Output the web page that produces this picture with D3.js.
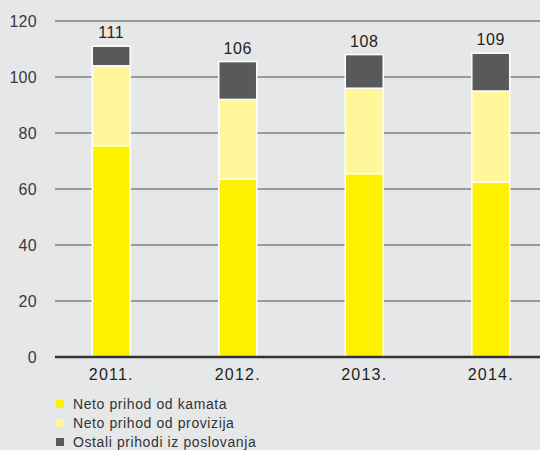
<!DOCTYPE html>
<html>
<head>
<meta charset="utf-8">
<script src="https://cdn.jsdelivr.net/npm/d3@7"></script>
<style>
  body { margin: 0; background: #e6e7e8; }
  svg { display: block; font-family: "Liberation Sans", "DejaVu Sans", sans-serif; }
</style>
</head>
<body>
<svg id="chart" width="540" height="450"></svg>
<script>
// data
var years = ["2011.", "2012.", "2013.", "2014."];
var kamata = [75.5, 63.5, 65.5, 62.5];
var provizija = [28.5, 28.5, 30.5, 32.5];
var ostali = [7, 13.5, 12, 13.5];
var totals = [111, 106, 108, 109];
var seriesNames = ["Neto prihod od kamata", "Neto prihod od provizija", "Ostali prihodi iz poslovanja"];
var colors = ["#fff200", "#fff799", "#58595b"];
var yTicks = [0, 20, 40, 60, 80, 100, 120];

var svg = d3.select("#chart");

var x = d3.scaleBand()
    .domain(years)
    .range([48, 554])
    .paddingInner(0.7)
    .paddingOuter(0.35);

var y = d3.scaleLinear()
    .domain([0, 120])
    .range([357, 21]);

// gridlines
svg.append("g")
    .selectAll("line")
    .data(yTicks.slice(1))
    .enter().append("line")
    .attr("x1", 55)
    .attr("x2", 540)
    .attr("y1", function(d) { return y(d); })
    .attr("y2", function(d) { return y(d); })
    .attr("stroke", "#4d4d4f")
    .attr("stroke-width", 1);

// y axis labels
var yAxis = d3.axisLeft(y).tickValues(yTicks).tickSize(0).tickPadding(0);
svg.append("g")
    .attr("transform", "translate(37,0)")
    .call(yAxis)
    .call(function(g) { g.select(".domain").remove(); })
    .selectAll("text")
    .attr("font-size", 16)
    .attr("font-family", "Liberation Sans, sans-serif")
    .attr("fill", "#3a3a3a")
    .attr("letter-spacing", 0.3);

// stacked bars
var rows = years.map(function(yr, i) {
    return { year: yr, kamata: kamata[i], provizija: provizija[i], ostali: ostali[i] };
});
var stack = d3.stack().keys(["kamata", "provizija", "ostali"]);
var layers = stack(rows);

svg.append("g")
    .selectAll("g")
    .data(layers)
    .enter().append("g")
    .attr("fill", function(d, i) { return colors[i]; })
    .selectAll("rect")
    .data(function(d) { return d; })
    .enter().append("rect")
    .attr("x", function(d) { return x(d.data.year); })
    .attr("width", x.bandwidth())
    .attr("y", function(d) { return y(d[1]); })
    .attr("height", function(d) { return y(d[0]) - y(d[1]); })
    .attr("stroke", "#ffffff")
    .attr("stroke-width", 1.5);

// baseline
svg.append("line")
    .attr("x1", 55).attr("x2", 540)
    .attr("y1", y(0)).attr("y2", y(0))
    .attr("stroke", "#333333")
    .attr("stroke-width", 2.5);

// totals
svg.append("g")
    .selectAll("text")
    .data(years)
    .enter().append("text")
    .attr("x", function(d) { return x(d) + x.bandwidth() / 2; })
    .attr("y", function(d, i) { return y(kamata[i] + provizija[i] + ostali[i]) - 8; })
    .attr("text-anchor", "middle")
    .attr("font-size", 16)
    .attr("letter-spacing", 0.6)
    .attr("fill", "#231f20")
    .text(function(d, i) { return totals[i]; });

// x axis labels
var xAxis = d3.axisBottom(x).tickSize(0).tickPadding(0);
svg.append("g")
    .attr("transform", "translate(0,368.5)")
    .call(xAxis)
    .call(function(g) { g.select(".domain").remove(); })
    .selectAll("text")
    .attr("font-size", 16)
    .attr("font-family", "Liberation Sans, sans-serif")
    .attr("fill", "#231f20")
    .attr("letter-spacing", 1.2);

// legend
var legend = svg.append("g")
    .selectAll("g")
    .data(seriesNames)
    .enter().append("g")
    .attr("transform", function(d, i) { return "translate(56," + (400 + i * 19) + ")"; });

legend.append("rect")
    .attr("width", 8)
    .attr("height", 8)
    .attr("fill", function(d, i) { return colors[i]; });

legend.append("text")
    .attr("x", 17)
    .attr("y", 4)
    .attr("dy", "0.35em")
    .attr("font-size", 14)
    .attr("letter-spacing", 0.6)
    .attr("fill", "#333333")
    .text(function(d) { return d; });
</script>
</body>
</html>
